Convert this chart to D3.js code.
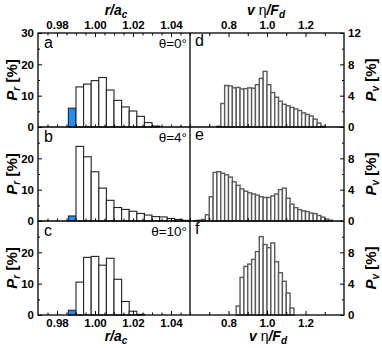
<!DOCTYPE html>
<html>
<head>
<meta charset="utf-8">
<script src="https://cdn.jsdelivr.net/npm/d3@7"></script>
<style>
  body { margin: 0; background: #fff; }
  text { font-family: "Liberation Sans", Arial, sans-serif; }
</style>
</head>
<body>
<div id="vis-container"></div>
<script>
// ---------------- data ----------------
// r/a_c histograms, bins of 0.004 starting at 0.986 (first bin is highlighted)
const rStart = 0.986, rWidth = 0.004
const rA = [6.0, 12.8, 13.7, 14.8, 15.8, 11.8, 8.5, 6.4, 5.1, 3.4, 1.4, 0.3]
const rB = [1.6, 23.8, 20.5, 15.7, 10.5, 6.6, 4.3, 3.7, 3.1, 2.4, 1.9, 1.4, 1.3, 0.8, 0.5, 0.2]
const rC = [1.5, 10.5, 18.4, 18.7, 15.9, 18.1, 11.4, 4.3, 1.2, 0.2]

// v eta / F_d histograms, bins of 0.02
const vWidth = 0.02
const vDStart = 0.74
const vD = [0.1, 3.0, 5.3, 5.25, 5.0, 5.05, 4.85, 4.9, 5.0, 4.95, 5.4, 6.2, 7.1, 5.4, 4.4, 3.8, 3.3, 2.9, 2.7, 2.5, 2.3, 2.1, 1.8, 1.6, 1.4, 1.0, 0.5, 0.1]
const vEStart = 0.62
const vE = [0.05, 0.1, 0.2, 0.8, 3.1, 6.2, 6.3, 6.1, 5.9, 5.6, 5.0, 4.55, 4.1, 3.8, 3.6, 3.45, 3.3, 3.1, 3.0, 3.0, 3.2, 3.45, 4.0, 4.2, 2.9, 2.15, 1.7, 1.45, 1.3, 1.2, 1.0, 0.95, 0.7, 0.5, 0.25, 0.1]
const vFStart = 0.84
const vF = [1.15, 4.8, 6.2, 6.5, 7.1, 8.1, 10.0, 9.0, 8.6, 9.2, 6.8, 5.4, 4.3, 2.8, 0.9]

const letters = ["a", "b", "c", "d", "e", "f"]
const angles = ["θ=0°", "θ=4°", "θ=10°"]
const rTicks = [0.98, 1.00, 1.02, 1.04]
const vTicks = [0.8, 1.0, 1.2]
const prTicks = [0, 10, 20, 30]
const pvTicks = [0, 4, 8, 12]

// ---------------- layout ----------------
const W = 382, H = 348
const L = 38, M = 190, R = 344
const tops = [33, 127, 221]
const ph = 94

const svg = d3.select("#vis-container").append("svg")
  .attr("width", W).attr("height", H)

const xr = d3.scaleLinear().domain([0.97, 1.05]).range([L, M])
const xv = d3.scaleLinear().domain([0.6, 1.4]).range([M, R])

const boldFont = g => g.selectAll("text")
  .attr("font-size", 11.5).attr("font-weight", "bold")
  .attr("font-family", "'Liberation Sans', Arial, sans-serif").attr("fill", "#000")
const clean = g => { g.select(".domain").remove(); g.selectAll("line").attr("stroke", "#000") }

function bars(g, x, y, start, w, vals, stroke, sw, firstBlue) {
  g.selectAll("rect.bar").data(vals).join("rect")
    .attr("class", "bar")
    .attr("x", (d, i) => x(start + i * w))
    .attr("width", x(start + w) - x(start))
    .attr("y", d => y(d))
    .attr("height", d => y(0) - y(d))
    .attr("fill", (d, i) => firstBlue && i === 0 ? "#1f8fff" : "#fff")
    .attr("stroke", stroke)
    .attr("stroke-width", sw)
}

const rData = [rA, rB, rC]
const vData = [[vDStart, vD], [vEStart, vE], [vFStart, vF]]

tops.forEach((top, k) => {
  const yl = d3.scaleLinear().domain([0, 30]).range([top + ph, top])
  const yv = d3.scaleLinear().domain([0, 12]).range([top + ph, top])

  // bars
  bars(svg.append("g"), xr, yl, rStart, rWidth, rData[k], "#222", 1.1, true)
  bars(svg.append("g"), xv, yv, vData[k][0], vWidth, vData[k][1], "#5a5a5a", 1.4, false)

  // left y axis
  svg.append("g").attr("transform", `translate(${L},0)`)
    .call(d3.axisLeft(yl).tickValues(k === 0 ? prTicks : prTicks.slice(0, 3)).tickSize(-4).tickPadding(4))
    .call(clean).call(boldFont)
  svg.append("g").attr("transform", `translate(${L},0)`)
    .call(d3.axisLeft(yl).tickValues([5, 15, 25]).tickSize(-2).tickFormat(""))
    .call(clean)

  // right y axis
  svg.append("g").attr("transform", `translate(${R},0)`)
    .call(d3.axisRight(yv).tickValues(k === 0 ? pvTicks : pvTicks.slice(0, 3)).tickSize(-4).tickPadding(4))
    .call(clean).call(boldFont)
  svg.append("g").attr("transform", `translate(${R},0)`)
    .call(d3.axisRight(yv).tickValues([2, 6, 10]).tickSize(-2).tickFormat(""))
    .call(clean)

  // x ticks along bottom of each panel
  const rMinor = d3.range(0.975, 1.05, 0.005)
  svg.append("g").attr("transform", `translate(0,${top + ph})`)
    .call(d3.axisBottom(xr).tickValues(k === 2 ? rTicks : []).tickSize(-4).tickPadding(4).tickFormat(d3.format(".2f")))
    .call(clean).call(boldFont)
  svg.append("g").attr("transform", `translate(0,${top + ph})`)
    .call(d3.axisBottom(xr).tickValues(rMinor).tickSize(-2.5).tickFormat(""))
    .call(clean)
  svg.append("g").attr("transform", `translate(0,${top + ph})`)
    .call(d3.axisBottom(xv).tickValues(k === 2 ? vTicks : []).tickSize(-4).tickPadding(4).tickFormat(d3.format(".1f")))
    .call(clean).call(boldFont)
  svg.append("g").attr("transform", `translate(0,${top + ph})`)
    .call(d3.axisBottom(xv).tickValues([0.7, 0.9, 1.1, 1.3]).tickSize(-3).tickFormat(""))
    .call(clean)

  // panel letters and angle labels
  svg.append("text").attr("x", 44).attr("y", top + 15)
    .attr("font-size", 16).text(letters[k])
  svg.append("text").attr("x", 195).attr("y", top + 13)
    .attr("font-size", 16).text(letters[k + 3])
  svg.append("text").attr("x", 187).attr("y", top + 15)
    .attr("text-anchor", "end").attr("font-size", 13.5).text(angles[k])

  // y titles
  const lt = svg.append("text")
    .attr("transform", `translate(17,${top + ph / 2}) rotate(-90)`)
    .attr("text-anchor", "middle").attr("font-size", 15).attr("font-weight", "bold")
  lt.append("tspan").attr("font-style", "italic").text("P")
  lt.append("tspan").attr("font-style", "italic").attr("font-size", 10).attr("dy", 3).text("r")
  lt.append("tspan").attr("dy", -3).text(" [%]")

  const rt = svg.append("text")
    .attr("transform", `translate(376,${top + ph / 2}) rotate(-90)`)
    .attr("text-anchor", "middle").attr("font-size", 15).attr("font-weight", "bold")
  rt.append("tspan").attr("font-style", "italic").text("P")
  rt.append("tspan").attr("font-style", "italic").attr("font-size", 10).attr("dy", 3).text("v")
  rt.append("tspan").attr("dy", -3).text(" [%]")
})

// top x axes
svg.append("g").attr("transform", `translate(0,${tops[0]})`)
  .call(d3.axisTop(xr).tickValues(rTicks).tickSize(-4).tickPadding(4).tickFormat(d3.format(".2f")))
  .call(clean).call(boldFont)
svg.append("g").attr("transform", `translate(0,${tops[0]})`)
  .call(d3.axisTop(xr).tickValues(d3.range(0.975, 1.05, 0.005)).tickSize(-2.5).tickFormat(""))
  .call(clean)
svg.append("g").attr("transform", `translate(0,${tops[0]})`)
  .call(d3.axisTop(xv).tickValues(vTicks).tickSize(-4).tickPadding(4).tickFormat(d3.format(".1f")))
  .call(clean).call(boldFont)
svg.append("g").attr("transform", `translate(0,${tops[0]})`)
  .call(d3.axisTop(xv).tickValues([0.7, 0.9, 1.1, 1.3]).tickSize(-3).tickFormat(""))
  .call(clean)

// frame
const frame = svg.append("g").attr("fill", "none").attr("stroke", "#000").attr("stroke-width", 1.3)
frame.append("rect").attr("x", L).attr("y", tops[0]).attr("width", R - L).attr("height", ph * 3)
frame.append("line").attr("x1", M).attr("x2", M).attr("y1", tops[0]).attr("y2", tops[0] + 3 * ph)
tops.slice(1).forEach(t => frame.append("line").attr("x1", L).attr("x2", R).attr("y1", t).attr("y2", t))

// x titles
function rTitle(x, y) {
  const t = svg.append("text").attr("x", x).attr("y", y).attr("text-anchor", "middle")
    .attr("font-size", 14).attr("font-weight", "bold").attr("font-style", "italic")
  t.append("tspan").text("r/a")
  t.append("tspan").attr("font-size", 10).attr("dy", 3).text("c")
}
function vTitle(x, y) {
  const t = svg.append("text").attr("x", x).attr("y", y).attr("text-anchor", "middle")
    .attr("font-size", 14).attr("font-weight", "bold").attr("font-style", "italic")
  t.append("tspan").text("v ")
  t.append("tspan").attr("font-weight", "normal").attr("font-style", "normal").text("η")
  t.append("tspan").text("/F")
  t.append("tspan").attr("font-size", 10).attr("dy", 3).text("d")
}
rTitle(116, 15)
vTitle(266, 15)
rTitle(116, 341)
vTitle(268, 341)
</script>
</body>
</html>
